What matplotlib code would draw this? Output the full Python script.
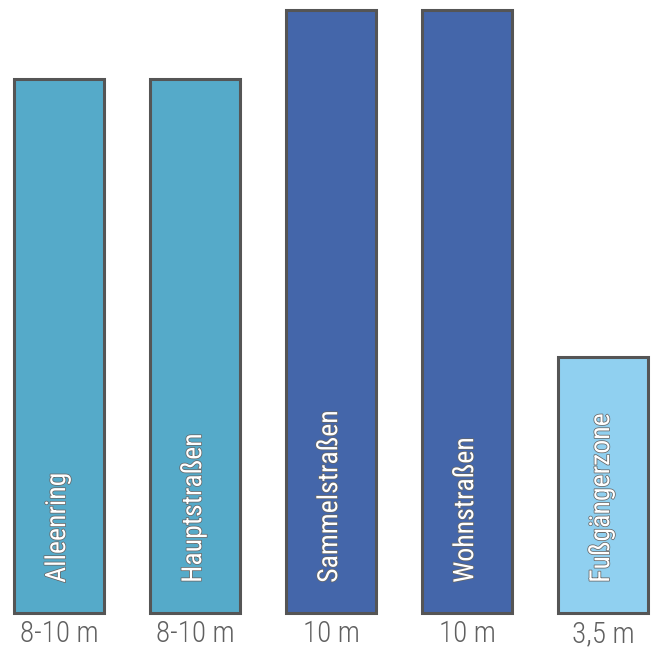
import numpy as np
import matplotlib.pyplot as plt
import matplotlib.patheffects as pe
from matplotlib import font_manager

# street types, width labels and bar heights
names = ['Alleenring', 'Hauptstraßen', 'Sammelstraßen', 'Wohnstraßen', 'Fußgängerzone']
widths = ['8-10 m', '8-10 m', '10 m', '10 m', '3,5 m']
heights = [8.86, 8.86, 10.0, 10.0, 4.25]
colors = ['#55aac9', '#55aac9', '#4466aa', '#4466aa', '#90d0f0']

installed = {f.name for f in font_manager.fontManager.ttflist}
def pick(cands):
    return [c for c in cands if c in installed][:1] + ['DejaVu Sans']
family = pick(['Roboto Condensed', 'Barlow Condensed', 'Archivo Narrow', 'Asap Condensed'])

fig = plt.figure(figsize=(6.57, 6.49), dpi=100)
ax = fig.add_axes([0, 36/649, 1, 613/649])

x = np.arange(len(names))
ax.bar(x, heights, width=0.662, color=colors, edgecolor='#555555',
       linewidth=2.2, clip_on=False)

# names written upward inside the bars, white with grey outline
for xi, name in zip(x, names):
    ax.text(xi - 0.01, 0.5, name, rotation=90, ha='center', va='bottom',
            fontsize=20, color='white', family=family,
            path_effects=[pe.Stroke(linewidth=1.1, foreground='#666666'), pe.Normal()])

ax.set_xlim(-59/136, (657-59)/136)
ax.set_ylim(0, 10*613/603)
ax.set_xticks(x)
ax.set_xticklabels(widths, fontsize=21, color='#606060', family=family, weight='light')
ax.tick_params(axis='x', length=0, pad=5)
ax.set_yticks([])
for s in ax.spines.values():
    s.set_visible(False)

plt.savefig('out.png', dpi=100)
